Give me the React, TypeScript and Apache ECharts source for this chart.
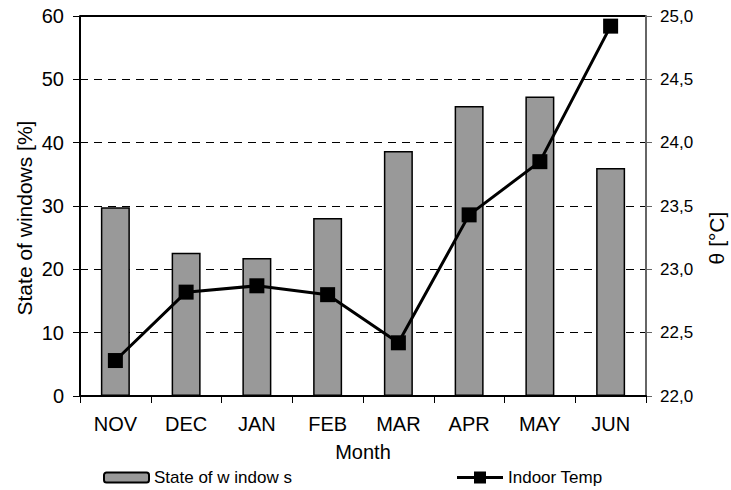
import React, { useEffect, useRef } from "react";
import * as echarts from "echarts";

const months = ["NOV", "DEC", "JAN", "FEB", "MAR", "APR", "MAY", "JUN"];
const windowState = [29.8, 22.6, 21.8, 28.1, 38.7, 45.8, 47.3, 36.0];
const indoorTemp = [22.28, 22.82, 22.87, 22.8, 22.42, 23.43, 23.85, 24.92];
const barName = "State of w indow s";
const lineName = "Indoor Temp";
const leftAxisName = "State of windows [%]";
const rightAxisName = "θ [°C]";

const FONT = "'Liberation Sans', Arial, sans-serif";

export default function App() {
  const ref = useRef<HTMLDivElement>(null);
  useEffect(() => {
    if (!ref.current) return;
    const chart = echarts.init(ref.current, null, { renderer: "svg" });
    const dashed = { show: true, lineStyle: { color: "#000", width: 1, type: [8, 6] as any } };
    const legendText = { fontSize: 17, fontFamily: FONT, color: "#000" };
    chart.setOption({
      animation: false,
      backgroundColor: "#fff",
      textStyle: { fontFamily: FONT, color: "#000" },
      grid: { left: 80, right: 85, top: 16, bottom: 94 },
      legend: [
        {
          data: [barName],
          left: 103,
          top: 469,
          padding: 0,
          itemWidth: 45,
          itemHeight: 10,
          itemGap: 4,
          textStyle: legendText,
        },
        {
          data: [
            {
              name: lineName,
              icon: "path://M0,4.5 H46 V7.5 H0 Z M17,0 H29 V12 H17 Z",
            },
          ],
          left: 457,
          top: 469,
          padding: 0,
          itemWidth: 46,
          itemHeight: 12,
          itemGap: 3,
          itemStyle: { color: "#000", borderWidth: 0 },
          textStyle: legendText,
        },
      ],
      graphic: [
        { type: "line", shape: { x1: 80, y1: 16, x2: 646, y2: 16 }, style: { stroke: "#000", lineWidth: 2 } },
        {
          type: "text",
          x: 24,
          y: 218,
          rotation: Math.PI / 2,
          style: {
            text: leftAxisName,
            fontSize: 21,
            fontFamily: FONT,
            fill: "#000",
            align: "center",
            verticalAlign: "middle",
          },
        },
        {
          type: "text",
          x: 716,
          y: 238,
          rotation: Math.PI / 2,
          style: {
            text: rightAxisName,
            fontSize: 21,
            fontFamily: FONT,
            fill: "#000",
            align: "center",
            verticalAlign: "middle",
          },
        },
      ],
      xAxis: {
        type: "category",
        data: months,
        name: "Month",
        nameLocation: "middle",
        nameGap: 46,
        nameTextStyle: { fontSize: 20, color: "#000", fontFamily: FONT },
        axisLine: { lineStyle: { color: "#000", width: 2 } },
        axisTick: { show: true, length: 7, lineStyle: { color: "#000", width: 1 } },
        axisLabel: { fontSize: 20, color: "#000", margin: 18, fontFamily: FONT },
      },
      yAxis: [
        {
          type: "value",
          min: 0,
          max: 60,
          interval: 10,
          axisLine: { show: true, lineStyle: { color: "#000", width: 2 } },
          axisTick: { show: true, length: 7, lineStyle: { color: "#000" } },
          axisLabel: { fontSize: 20, color: "#000", margin: 16, fontFamily: FONT },
          splitLine: dashed,
        },
        {
          type: "value",
          min: 22,
          max: 25,
          interval: 0.5,
          position: "right",
          axisLine: { show: true, lineStyle: { color: "#666", width: 2 } },
          axisTick: { show: true, length: 6, lineStyle: { color: "#666" } },
          axisLabel: {
            fontSize: 17,
            color: "#000",
            margin: 14,
            fontFamily: FONT,
            formatter: (v: number) => v.toFixed(1).replace(".", ","),
          },
          splitLine: { show: false },
        },
      ],
      series: [
        {
          name: barName,
          type: "bar",
          data: windowState,
          yAxisIndex: 0,
          barWidth: 29,
          itemStyle: { color: "#999999", borderColor: "#000", borderWidth: 1.5 },
        },
        {
          name: lineName,
          type: "line",
          data: indoorTemp,
          yAxisIndex: 1,
          symbol: "rect",
          symbolSize: 15,
          lineStyle: { color: "#000", width: 3 },
          itemStyle: { color: "#000" },
        },
      ],
    });
    return () => chart.dispose();
  }, []);
  return <div ref={ref} style={{ width: 731, height: 490, position: "absolute", left: 0, top: 0 }} />;
}
